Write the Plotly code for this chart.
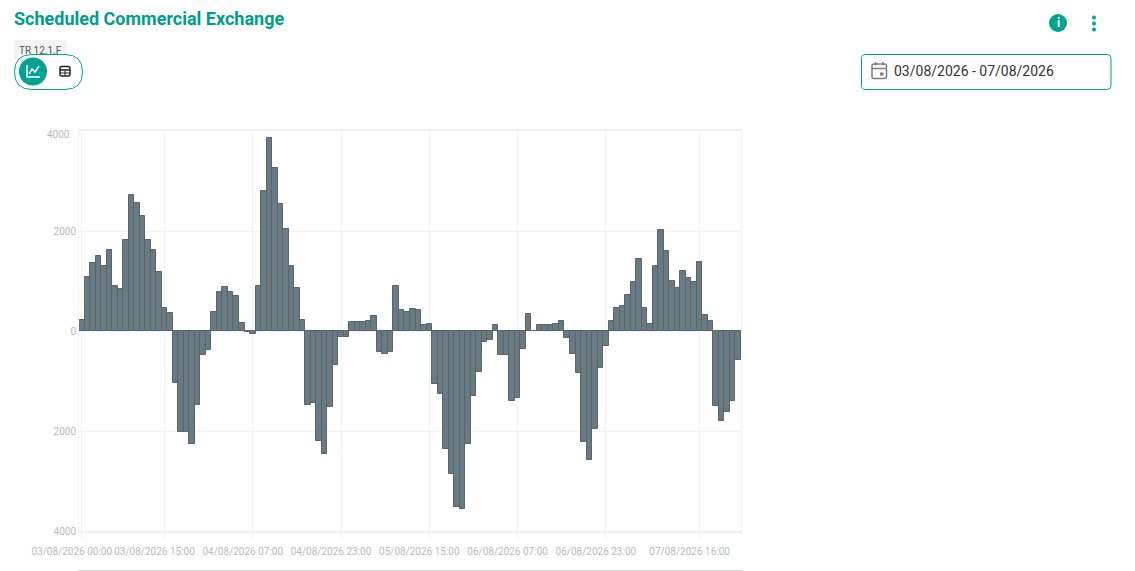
import plotly.graph_objects as go
import pandas as pd

W, H = 1135, 571

title = "Scheduled Commercial Exchange"
tag = "TR 12.1.F"
date_range_text = "03/08/2026 - 07/08/2026"

categories = [t.strftime("%d/%m/%Y %H:%M") for t in pd.date_range("2026-08-03 00:00", periods=120, freq="h")]
tick_labels = ["03/08/2026 00:00", "03/08/2026 15:00", "04/08/2026 07:00", "04/08/2026 23:00",
               "05/08/2026 15:00", "06/08/2026 07:00", "06/08/2026 23:00", "07/08/2026 16:00"]
values = [
    225, 1080, 1367, 1493, 1293, 1627, 907, 847, 1827, 2713, 2553, 2293, 1813, 1620, 1187, 467, 367,
    -1033, -2013, -2027, -2260, -1487, -473, -380,
    387, 780, 887, 773, 700, 160, -10, -50, 900, 2807, 3867, 3267, 2533, 2040, 1300, 867, 227,
    -1480, -1440, -2200, -2453, -1527, -673, -120, -120,
    173, 173, 187, 200, 307, -420, -453, -413, 900, 427, 387, 447, 420, 127, 147,
    -1060, -1260, -2367, -2860, -3513, -3567, -2260, -1307, -813, -227, -187, 127,
    -480, -480, -1393, -1333, -360, 340, 10, 120, 120, 120, 140, 200,
    -140, -453, -847, -2227, -2587, -1960, -740, -300,
    207, 467, 493, 727, 973, 1440, 467, 147, 1293, 2020, 1593, 1007, 867, 1207, 1067, 973, 1380, 313, 200,
    -1500, -1800, -1627, -1407, -587,
]
y_ticks = [2000, 0, -2000, -4000]
y_tick_text = ["2000", "0", "2000", "4000"]

TEAL = "#00a38d"
GRID = "#f2f2f2"
LABEL = "#b9b9b9"


def X(p):
    return p / W


def Y(p):
    return 1 - p / H


def path(*cmds):
    out = []
    for c in cmds:
        if isinstance(c, str):
            out.append(c)
        else:
            out.append(f"{X(c[0]):.5f},{Y(c[1]):.5f}")
    return " ".join(out)


def poly(pts, close=False):
    s = "M " + " L ".join(f"{X(a):.5f},{Y(b):.5f}" for a, b in pts)
    return s + (" Z" if close else "")


def rrect(x0, y0, x1, y1, r, fill, line, lw=1):
    cmds = ["M", (x0 + r, y0), "L", (x1 - r, y0), "Q", (x1, y0), (x1, y0 + r), "L", (x1, y1 - r),
            "Q", (x1, y1), (x1 - r, y1), "L", (x0 + r, y1), "Q", (x0, y1), (x0, y1 - r), "L", (x0, y0 + r),
            "Q", (x0, y0), (x0 + r, y0), "Z"]
    return dict(type="path", xref="paper", yref="paper", path=path(*cmds), fillcolor=fill,
                line=dict(color=line, width=lw), layer="above")


def circ(cx, cy, r, fill):
    return dict(type="circle", xref="paper", yref="paper", x0=X(cx - r), x1=X(cx + r),
                y0=Y(cy + r), y1=Y(cy - r), fillcolor=fill, line=dict(width=0), layer="above")


def stroke(pts, color, lw=1.5):
    return dict(type="path", xref="paper", yref="paper", path=poly(pts), line=dict(color=color, width=lw), layer="above")


def note(x, y, text, size, color, anchor="left", family="Roboto"):
    return dict(xref="paper", yref="paper", x=X(x), y=Y(y), text=text, showarrow=False, xanchor=anchor,
                yanchor="middle", align="left", font=dict(family=family, size=size, color=color))


fig = go.Figure(go.Bar(
    x=categories, y=values, width=1,
    marker=dict(color="#6a7a82", line=dict(color="#56666e", width=1)),
))

shapes = [
    # tag chip and view toggle
    rrect(14, 40, 67, 60, 3, "#f3f3f3", "#f3f3f3", 0),
    rrect(14.5, 54.5, 82.5, 89.5, 17.5, "#ffffff", TEAL, 1),
    circ(33, 71.5, 14, TEAL),
    stroke([(27, 65), (27, 77), (40, 77)], "#ffffff", 1.5),
    stroke([(29, 74), (32, 69), (35, 72), (39, 66)], "#ffffff", 1.5),
    rrect(60, 66.5, 70, 76, 1.5, "#ffffff", "#222222", 1.5),
    stroke([(60, 70), (70, 70)], "#222222", 1.5),
    stroke([(60, 73), (70, 73)], "#222222", 1),
    stroke([(65, 70), (65, 76)], "#222222", 1),
    # info and menu icons
    circ(1058, 23, 9, TEAL),
    circ(1094, 17.5, 2, TEAL), circ(1094, 23.5, 2, TEAL), circ(1094, 29.5, 2, TEAL),
    # date field
    rrect(861.5, 54.5, 1111, 89.5, 4, "#ffffff", TEAL, 1),
    rrect(872, 64, 886.5, 78.5, 2, "#ffffff", "#7f7f7f", 1.5),
    stroke([(872, 68.5), (886.5, 68.5)], "#7f7f7f", 1.5),
    stroke([(875.5, 62), (875.5, 65.5)], "#7f7f7f", 1.5),
    stroke([(883, 62), (883, 65.5)], "#7f7f7f", 1.5),
    rrect(880, 72.5, 883.5, 75.5, 0.3, "#7f7f7f", "#7f7f7f", 0),
    # slider border under the chart
    dict(type="line", xref="paper", yref="paper", x0=X(78), x1=X(742), y0=Y(570.5), y1=Y(570.5),
         line=dict(color="#d4d4d4", width=1), layer="above"),
]

annotations = [
    note(12, 18.5, f"<b>{title}</b>", 18, "#009e89"),
    note(17, 50.5, tag, 10, "#555555"),
    note(1058, 23, "<b>i</b>", 12, "#ffffff", "center"),
    note(892, 71, date_range_text, 14, "#333333"),
    note(72, 134, "4000", 10, LABEL, "right"),
]

fig.update_layout(
    width=W, height=H, autosize=False, margin=dict(l=0, r=0, t=0, b=0),
    paper_bgcolor="#ffffff", plot_bgcolor="#ffffff", showlegend=False, bargap=0,
    font=dict(family="Roboto", size=10, color=LABEL),
    shapes=shapes, annotations=annotations,
    xaxis=dict(
        domain=[79 / W, 741 / W], type="category", categoryorder="array", categoryarray=categories,
        range=[-0.5, 119.5], tickmode="array", tickvals=tick_labels, ticktext=tick_labels,
        tickangle=0, ticks="outside", ticklen=5, tickcolor="#efefef", tickwidth=1,
        showgrid=True, gridcolor=GRID, gridwidth=1, showline=True, linecolor="#f0f0f0", linewidth=2,
        mirror=True, ticklabelshift=-10, ticklabelstandoff=5, tickfont=dict(family="Roboto", size=10, color=LABEL),
        automargin=False, fixedrange=True,
    ),
    yaxis=dict(
        domain=[1 - 531 / H, 1 - 131 / H], range=[-4000, 4000], tickmode="array", tickvals=y_ticks,
        ticktext=y_tick_text, showgrid=True, gridcolor=GRID, gridwidth=1, zeroline=False, showline=True,
        linecolor="#f4f4f4", linewidth=1, mirror=True, ticks="", tickfont=dict(family="Roboto", size=10, color=LABEL),
        automargin=False, fixedrange=True,
    ),
)

fig.write_html("out.html", config=dict(displayModeBar=False),
               post_script="document.body.style.margin='0';document.documentElement.style.overflow='hidden';")
